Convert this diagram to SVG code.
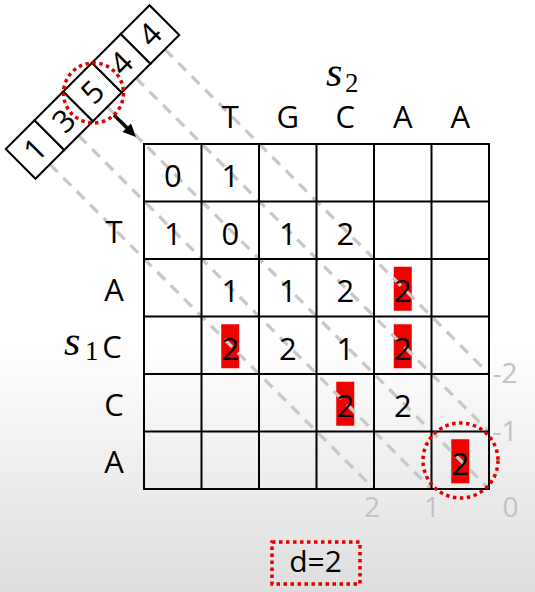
<svg xmlns="http://www.w3.org/2000/svg" width="535" height="592" viewBox="0 0 535 592">
  <defs>
    <linearGradient id="bg" x1="0" y1="0" x2="0" y2="592" gradientUnits="userSpaceOnUse">
      <stop offset="0" stop-color="#ffffff"/>
      <stop offset="0.57" stop-color="#ffffff"/>
      <stop offset="1" stop-color="#dedede"/>
    </linearGradient>
    <style>
      .txt { font-family: "Open Sans", "Liberation Sans", sans-serif; font-size: 31px; fill: #000; text-anchor: middle; }
      .gray { font-family: "Open Sans", "Liberation Sans", sans-serif; font-size: 28px; fill: #c2c2c2; text-anchor: middle; }
      .math { font-family: "Liberation Serif", "DejaVu Serif", serif; font-style: italic; font-size: 42px; fill: #000; }
      .sub { font-family: "Liberation Serif", "DejaVu Serif", serif; font-size: 27px; fill: #000; }
      .grid { fill: none; stroke: #000; stroke-width: 2; }
      .diag { stroke: #c8c8c8; stroke-width: 3.3; stroke-dasharray: 11 8; fill: none; }
      .hl { fill: #f00000; }
      .dotted { fill: none; stroke: #e00000; stroke-width: 3.5; stroke-dasharray: 3.5 3.5; }
      .box { fill: #fff; stroke: #000; stroke-width: 2; }
    </style>
  </defs>

  <rect x="0" y="0" width="535" height="592" fill="url(#bg)"/>

  <!-- highlights -->
  <g id="highlights">
    <rect class="hl" x="393.75" y="266.75" width="18" height="44"/>
    <rect class="hl" x="221.25" y="324.25" width="18" height="44"/>
    <rect class="hl" x="393.75" y="324.25" width="18" height="44"/>
    <rect class="hl" x="336.25" y="381.75" width="18" height="44"/>
    <rect class="hl" x="451.25" y="439.25" width="18" height="44"/>
  </g>

  <!-- connectors: dashed diagonals and arrow -->
  <g id="connectors">
    <line class="diag" x1="164.9" y1="49.4" x2="489" y2="374"/>
    <line class="diag" x1="136.1" y1="78.1" x2="489" y2="431.5"/>
    <line class="diag" x1="107.4" y1="106.9" x2="489" y2="489"/>
    <line class="diag" x1="78.6" y1="135.6" x2="431.5" y2="489"/>
    <line class="diag" x1="49.9" y1="164.4" x2="374" y2="489"/>
    <line x1="114" y1="115" x2="127" y2="128" stroke="#000" stroke-width="3.2"/>
    <polygon points="136,137 122.5,132 131,123.5" fill="#000"/>
  </g>

  <!-- grid -->
  <g id="grid">
    <rect class="grid" x="144" y="144" width="345" height="345"/>
    <path class="grid" d="M201.5,144V489 M259,144V489 M316.5,144V489 M374,144V489 M431.5,144V489 M144,201.5H489 M144,259H489 M144,316.5H489 M144,374H489 M144,431.5H489"/>
  </g>

  <!-- cell values -->
  <g id="cells" class="txt">
    <text x="172.75" y="187">0</text>
    <text x="230.25" y="187">1</text>
    <text x="172.75" y="244.5">1</text>
    <text x="230.25" y="244.5">0</text>
    <text x="287.75" y="244.5">1</text>
    <text x="345.25" y="244.5">2</text>
    <text x="230.25" y="302">1</text>
    <text x="287.75" y="302">1</text>
    <text x="345.25" y="302">2</text>
    <text x="402.75" y="302">2</text>
    <text x="230.25" y="359.5">2</text>
    <text x="287.75" y="359.5">2</text>
    <text x="345.25" y="359.5">1</text>
    <text x="402.75" y="359.5">2</text>
    <text x="345.25" y="417">2</text>
    <text x="402.75" y="417">2</text>
    <text x="460.25" y="474.5">2</text>
  </g>

  <!-- column header s2 -->
  <g id="header-s2">
    <text class="math" x="326" y="86">s</text>
    <text class="sub" x="345" y="92">2</text>
    <g class="txt">
      <text x="230.25" y="127.5">T</text>
      <text x="287.75" y="127.5">G</text>
      <text x="345.25" y="127.5">C</text>
      <text x="402.75" y="127.5">A</text>
      <text x="460.25" y="127.5">A</text>
    </g>
  </g>

  <!-- row header s1 -->
  <g id="header-s1">
    <text class="math" x="64" y="355">s</text>
    <text class="sub" x="85" y="360">1</text>
    <g class="txt">
      <text x="114" y="243.3">T</text>
      <text x="114" y="300.8">A</text>
      <text x="112" y="358.3">C</text>
      <text x="114" y="415.8">C</text>
      <text x="114" y="473.3">A</text>
    </g>
  </g>

  <!-- diagonal labels -->
  <g id="diag-labels" class="gray">
    <text x="505" y="383">-2</text>
    <text x="505" y="441">-1</text>
    <text x="510.5" y="517">0</text>
    <text x="432" y="517">1</text>
    <text x="372" y="517">2</text>
  </g>

  <!-- rotated band array -->
  <g id="band" transform="translate(92.5,92) rotate(-45)">
    <rect class="box" x="-101.65" y="-21" width="40.66" height="42"/>
    <rect class="box" x="-60.99" y="-21" width="40.66" height="42"/>
    <rect class="box" x="-20.33" y="-21" width="40.66" height="42"/>
    <rect class="box" x="20.33" y="-21" width="40.66" height="42"/>
    <rect class="box" x="60.99" y="-21" width="40.66" height="42"/>
    <g class="txt">
      <text x="-81.32" y="11">1</text>
      <text x="-40.66" y="11">3</text>
      <text x="0" y="11">5</text>
      <text x="40.66" y="11">4</text>
      <text x="81.32" y="11">4</text>
    </g>
  </g>

  <!-- dotted markers -->
  <g id="mark-band">
    <circle class="dotted" cx="93.5" cy="93" r="30"/>
  </g>
  <g id="mark-cell">
    <circle class="dotted" cx="460.5" cy="460.5" r="37.5"/>
  </g>
  <g id="d-box">
    <rect class="dotted" x="272" y="542" width="88" height="42"/>
    <text class="txt" x="315.5" y="572" style="font-size:30px">d=2</text>
  </g>
</svg>
